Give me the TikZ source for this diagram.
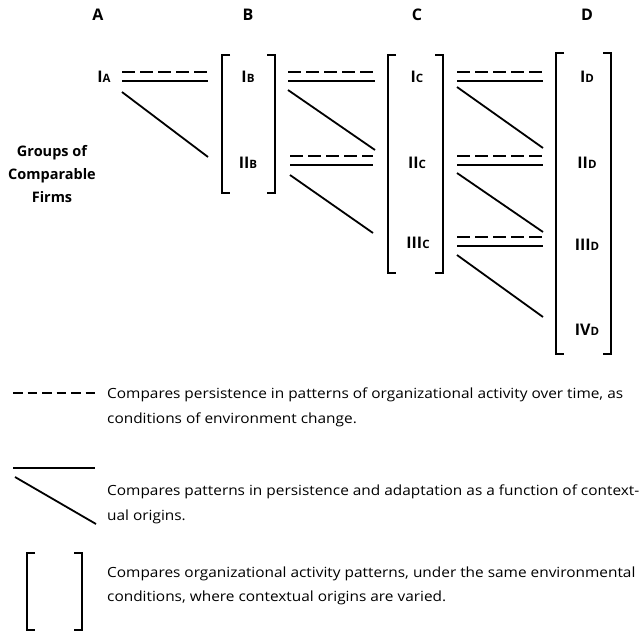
\documentclass[tikz,border=0pt]{standalone}
\usepackage{fontspec}
\setmainfont{Open Sans}
\newfontfamily\legfont[FakeStretch=1.1]{Open Sans}
\newcommand\subl[1]{{\fontsize{11.5}{10}\selectfont #1}}
\newcommand\brk[4]{%
  \draw[brk] ({#1+8},#3) -| (#1,#4) -- ({#1+8},#4);
  \draw[brk] ({#2-8},#3) -| (#2,#4) -- ({#2-8},#4);}
\newcommand\lnk[6]{%
  \coordinate (#1d1) at (#2,#4); \coordinate (#1d2) at (#3,#4);
  \coordinate (#1s1) at (#2,{#4+9}); \coordinate (#1s2) at (#3,{#4+9});
  \coordinate (#1g1) at (#2,#5); \coordinate (#1g2) at (#3,#6);
  \draw[dsh] (#1d1) -- (#1d2);
  \draw[lk] (#1s1) -- (#1s2);
  \draw[lk] (#1g1) -- (#1g2);}
\begin{document}
\begin{tikzpicture}[x=1pt,y=-1pt,
  lk/.style={line width=1.8pt},
  dsh/.style={line width=1.8pt, dash pattern=on 13pt off 5pt},
  brk/.style={line width=1.6pt},
  lab/.style={font=\fontsize{16}{16}\selectfont\bfseries, inner sep=0pt},
  head/.style={font=\fontsize{16}{16}\selectfont\bfseries, inner sep=0pt},
  leg/.style={font=\legfont\fontsize{14}{16}\selectfont, inner sep=0pt, anchor=base west}]
\useasboundingbox (0,0) rectangle (641,635);
% headings
\node[head] (hA) at (98,15) {A};
\node[head] (hB) at (248,15) {B};
\node[head] (hC) at (417,15) {C};
\node[head] (hD) at (587,15) {D};
% group labels
\node[lab] (IA) at (104,77) {I\subl{A}};
\node[lab] (IB) at (248,77) {I\subl{B}};
\node[lab] (IIB) at (248,163) {II\subl{B}};
\node[lab] (IC) at (417,77) {I\subl{C}};
\node[lab] (IIC) at (417,163) {II\subl{C}};
\node[lab] (IIIC) at (418,243) {III\subl{C}};
\node[lab] (ID) at (587,77) {I\subl{D}};
\node[lab] (IID) at (587,163) {II\subl{D}};
\node[lab] (IIID) at (587,245) {III\subl{D}};
\node[lab] (IVD) at (587,330) {IV\subl{D}};
\node[font=\fontsize{14.5}{23}\selectfont\bfseries, align=center, inner sep=0pt] (grp) at (52,174) {Groups of\\Comparable\\Firms};
% brackets
\brk{222}{275}{55}{193}
\brk{388}{443}{55}{273}
\brk{556}{611}{53}{354}
% links
\lnk{a}{122}{208}{72}{92}{157}
\lnk{b}{288}{375}{72}{90}{150}
\lnk{c}{290}{373}{156}{175}{233}
\lnk{d}{457}{543}{72}{87}{148}
\lnk{e}{457}{543}{156}{173}{232}
\lnk{f}{457}{543}{237}{255}{317}
% legend
\coordinate (l1a) at (13,393); \coordinate (l1b) at (95,393);
\draw[lk, dash pattern=on 9.5pt off 5pt] (l1a) -- (l1b);
\node[leg] (t1a) at (107,398) {Compares persistence in patterns of organizational activity over time, as};
\node[leg] (t1b) at (107,423) {conditions of environment change.};
\coordinate (l2a) at (13,468); \coordinate (l2b) at (95,468);
\coordinate (l2c) at (15,477); \coordinate (l2d) at (96,524);
\draw[lk] (l2a) -- (l2b);
\draw[lk] (l2c) -- (l2d);
\node[leg] (t2a) at (107,495) {Compares patterns in persistence and adaptation as a function of context-};
\node[leg] (t2b) at (107,520) {ual origins.};
\brk{27}{82}{553}{630}
\node[leg] (t3a) at (107,577) {Compares organizational activity patterns, under the same environmental};
\node[leg] (t3b) at (107,601) {conditions, where contextual origins are varied.};
\end{tikzpicture}
\end{document}
